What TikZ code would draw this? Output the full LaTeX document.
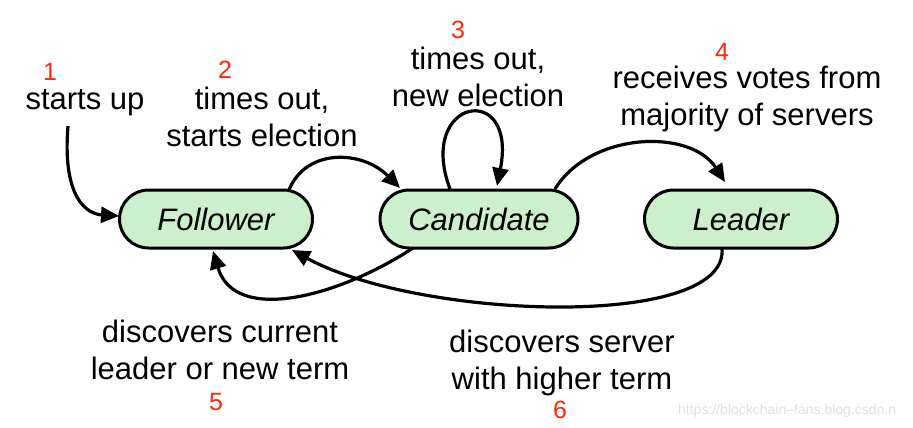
\documentclass[tikz,border=0pt]{standalone}
\usepackage{fontspec}
\setmainfont{Liberation Sans}
\usetikzlibrary{arrows.meta}
\definecolor{stategreen}{RGB}{204,240,204}
\definecolor{numred}{RGB}{255,40,10}
\definecolor{wmgray}{RGB}{225,225,225}
\begin{document}
\begin{tikzpicture}[x=1pt,y=-1pt,
  state/.style={draw=black,line width=3pt,fill=stategreen,rounded corners=29pt,
    minimum height=58pt,inner sep=0pt,font=\fontsize{31}{37}\selectfont\itshape},
  lbl/.style={align=center,font=\fontsize{31}{37}\selectfont,inner sep=0pt},
  num/.style={text=numred,font=\fontsize{25}{28}\selectfont,inner sep=0pt},
  conn/.style={line width=3.2pt,-{Triangle[length=18pt,width=16pt]}}]
\useasboundingbox (0,0) rectangle (913,428);
\node[state,minimum width=193pt] (F) at (216,219) {Follower};
\node[state,minimum width=198pt] (C) at (479,219) {Candidate};
\node[state,minimum width=193pt] (L) at (741,219) {Leader};
% labels
\node[num] (n1) at (50,72) {1};
\node[lbl] (t1) at (85,103) {starts up};
\node[num] (n2) at (225,70) {2};
\node[lbl] (t2) at (262,117) {times out,\\starts election};
\node[num] (n3) at (458,30) {3};
\node[lbl] (t3) at (478,77) {times out,\\new election};
\node[num] (n4) at (722,52) {4};
\node[lbl] (t4) at (747,99) {receives votes from\\majority of servers};
\node[num] (n5) at (216,402) {5};
\node[lbl] (t5) at (220,350) {discovers current\\leader or new term};
\node[num] (n6) at (560,410) {6};
\node[lbl] (t6) at (562,363) {discovers server\\with higher term};
\node[text=wmgray,font=\fontsize{14}{16}\selectfont,anchor=west,inner sep=0pt] (wm) at (678,411) {https://blockchain–fans.blog.csdn.n};
% coordinates
\coordinate (s1) at (68,126);
\coordinate (e1) at (119,216);
\coordinate (s2) at (289,190);
\coordinate (e2) at (400,188);
\coordinate (s3) at (450,189);
\coordinate (e3) at (497,186);
\coordinate (s4) at (555,189);
\coordinate (e4) at (725,182);
\coordinate (s5) at (413,248);
\coordinate (e5) at (213,251);
\coordinate (s6) at (722,248);
\coordinate (e6) at (292,250);
% connectors
\draw[conn] (s1) .. controls (62,200) and (88,214) .. (e1);
\draw[conn] (s2) .. controls (306,148) and (362,150) .. (e2);
\draw[conn] (s3) .. controls (416,98) and (518,80) .. (e3);
\draw[conn] (s4) .. controls (590,132) and (690,128) .. (e4);
\draw[conn] (s5) .. controls (340,296) and (235,325) .. (e5);
\draw[conn] (s6) .. controls (730,330) and (420,320) .. (e6);
\end{tikzpicture}
\end{document}
